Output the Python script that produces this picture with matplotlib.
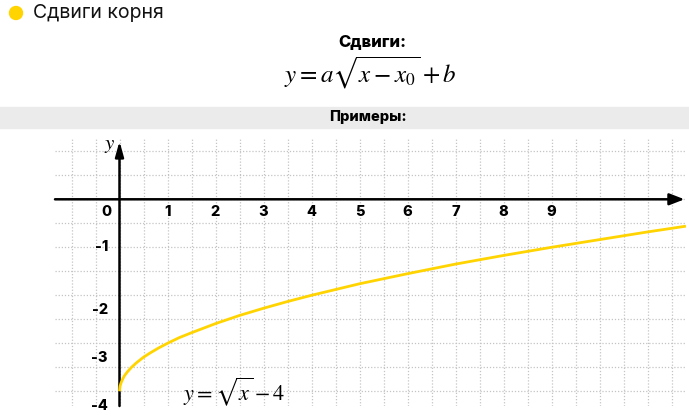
import numpy as np
import matplotlib
matplotlib.use("Agg")
import matplotlib.pyplot as plt
from matplotlib.patches import Rectangle, Ellipse

plt.rcParams['mathtext.fontset'] = 'stix'

# ---- data ----
title = "Сдвиги корня"
subtitle = "Сдвиги:"
band_label = "Примеры:"
formula = r"$y = a\sqrt{x - x_0} + b$"
curve_label = r"$y = \sqrt{x} - 4$"

x_tick_values = [0, 1, 2, 3, 4, 5, 6, 7, 8, 9]
x_tick_labels = ["0", "1", "2", "3", "4", "5", "6", "7", "8", "9"]
y_tick_values = [-1, -2, -3, -4]
y_tick_labels = ["-1", "-2", "-3", "-4"]

curve_x = [0.0, 0.01, 0.03, 0.06, 0.1, 0.16, 0.25, 0.36, 0.5, 0.64, 0.81, 1.0,
           1.25, 1.5, 2.0, 2.5, 3.0, 3.5, 4.0, 5.0, 6.0, 7.0, 8.0, 9.0, 10.0, 11.0, 11.8]
curve_y = [-4.0, -3.9, -3.83, -3.76, -3.68, -3.6, -3.5, -3.4, -3.29, -3.2, -3.1, -3.0,
           -2.88, -2.78, -2.59, -2.42, -2.27, -2.13, -2.0, -1.76, -1.55, -1.35, -1.17,
           -1.0, -0.84, -0.68, -0.56]

YELLOW = "#FFD400"
W, H = 689, 420

fig = plt.figure(figsize=(W / 100, H / 100), dpi=100)
fig.patch.set_facecolor("white")

def fx(px):
    return px / W

def fy(py):
    return 1 - py / H

# header
fig.add_artist(Ellipse((fx(16), fy(13)), 13 / W, 13 / H, color=YELLOW, transform=fig.transFigure))
fig.text(fx(33), fy(13), title, fontsize=14, family=["Inter", "DejaVu Sans"],
         ha="left", va="center", color="#111111")
fig.text(fx(372), fy(42), subtitle, fontsize=12, family=["Inter", "DejaVu Sans"],
         fontweight="heavy", ha="center", va="center", color="black")
fig.text(fx(370), fy(73), formula, fontsize=18, ha="center", va="center", color="black")

fig.add_artist(Rectangle((0, fy(128)), 1, (128 - 107) / H, color="#ebebeb",
                         transform=fig.transFigure, zorder=0))
fig.text(fx(368), fy(117.5), band_label, fontsize=10.5, family=["Inter", "DejaVu Sans"],
         fontweight="heavy", ha="center", va="center", color="black")

# chart axes
left_px, right_px, top_px, bottom_px = 55, 686, 138, 406
ax = fig.add_axes([fx(left_px), fy(bottom_px), (right_px - left_px) / W, (bottom_px - top_px) / H])
unit = 48.0
x0_px, y0_px = 119.5, 199.3
ax.set_xlim((left_px - x0_px) / unit, (right_px - x0_px) / unit)
ax.set_ylim(-(bottom_px - y0_px) / unit, (y0_px - top_px) / unit)
for s in ax.spines.values():
    s.set_visible(False)
ax.set_xticks(np.arange(-1, 11.6, 0.5))
ax.set_yticks(np.arange(-4, 1.1, 0.5))
ax.tick_params(length=0, labelbottom=False, labelleft=False)
ax.grid(True, color="#c4c4c4", linestyle=(0, (1, 1.5)), linewidth=0.9)
ax.set_axisbelow(True)

xmin, xmax = ax.get_xlim()
ymin, ymax = ax.get_ylim()
ax.annotate("", xy=(11.77, 0), xytext=(xmin, 0),
            arrowprops=dict(arrowstyle="-|>,head_length=0.9,head_width=0.35", lw=1.8,
                            color="black", shrinkA=0, shrinkB=0), annotation_clip=False)
ax.annotate("", xy=(0, 1.21), xytext=(0, ymin),
            arrowprops=dict(arrowstyle="-|>,head_length=0.9,head_width=0.25", lw=1.8,
                            color="black", shrinkA=0, shrinkB=0), annotation_clip=False)
ax.text(-0.2, 1.13, r"$y$", fontsize=15, ha="center", va="center")

ax.plot(curve_x, curve_y, color=YELLOW, lw=2.0, solid_capstyle="butt", clip_on=False, zorder=3)
ax.text(2.38, -4.0, curve_label, fontsize=16, ha="center", va="center", zorder=4)

label_font = dict(fontsize=10.5, family=["Inter", "DejaVu Sans"], fontweight="heavy", color="black")
for v, lab in zip(x_tick_values, x_tick_labels):
    xpos = -0.28 if v == 0 else v
    ax.text(xpos, -0.26, lab, ha="center", va="center", **label_font)
for v, lab in zip(y_tick_values, y_tick_labels):
    ypos = v if v == -1 else v - 0.3
    ax.text(-0.24, ypos, lab, ha="right", va="center", clip_on=False, **label_font)

fig.savefig("out.png", dpi=100, facecolor="white")
